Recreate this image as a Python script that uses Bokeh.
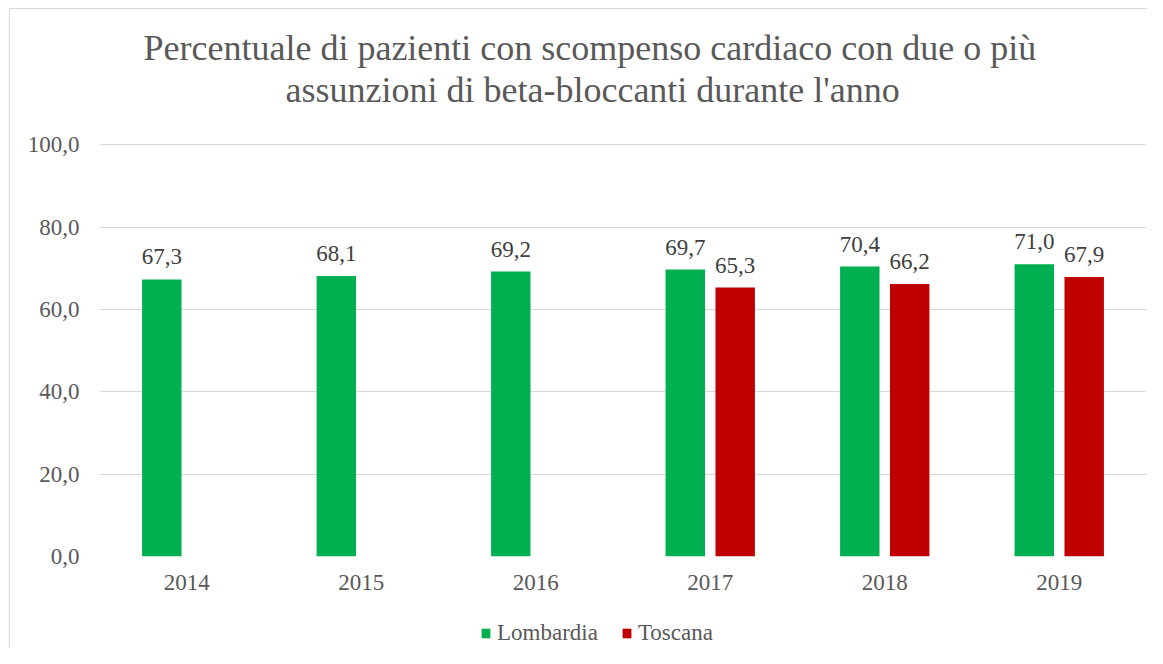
from bokeh.plotting import figure
from bokeh.layouts import column
from bokeh.models import ColumnDataSource, LabelSet, Title, FixedTicker, Legend, LegendItem
from bokeh.transform import dodge
from bokeh.core.properties import value
from bokeh.embed import file_html
from bokeh.resources import INLINE

# ---- data ----
years = ["2014", "2015", "2016", "2017", "2018", "2019"]
lombardia = [67.3, 68.1, 69.2, 69.7, 70.4, 71.0]
toscana = [None, None, None, 65.3, 66.2, 67.9]
series_names = ["Lombardia", "Toscana"]
y_ticks = [0, 20, 40, 60, 80, 100]
title_lines = ["Percentuale di pazienti con scompenso cardiaco con due o più",
               "assunzioni di beta-bloccanti durante l'anno"]

def fmt(v):
    return f"{v:.1f}".replace(".", ",")

lom_src = ColumnDataSource(dict(year=years, val=lombardia, lab=[fmt(v) for v in lombardia]))
tos_years = [y for y, v in zip(years, toscana) if v is not None]
tos_vals = [v for v in toscana if v is not None]
tos_src = ColumnDataSource(dict(year=tos_years, val=tos_vals, lab=[fmt(v) for v in tos_vals]))

FONT = "Liberation Serif"
GREEN = "#00B050"
RED = "#C00000"
GRAY = "#595959"
colors = [GREEN, RED]

W = 1147
p = figure(x_range=years, y_range=(0, 100.3), width=W, height=608,
           output_backend="svg", toolbar_location=None,
           min_border_left=99, min_border_right=1, min_border_top=143, min_border_bottom=52)
p.x_range.range_padding = 0
p.outline_line_color = None
p.background_fill_color = "white"
p.border_fill_alpha = 0

off = 0.143
bw = 0.226
p.vbar(x=dodge("year", -off, range=p.x_range), top="val", width=bw, source=lom_src,
       fill_color=colors[0], line_color=None)
p.vbar(x=dodge("year", off, range=p.x_range), top="val", width=bw, source=tos_src,
       fill_color=colors[1], line_color=None)

for src, o in ((lom_src, -off), (tos_src, off)):
    p.add_layout(LabelSet(x=dodge("year", o, range=p.x_range), y="val", text="lab", source=src,
                          text_align="center", text_baseline="alphabetic", y_offset=15,
                          text_font=value(FONT), text_font_size="23px", text_color="#404040"))

# axes
p.yaxis.ticker = FixedTicker(ticks=y_ticks)
p.yaxis.major_label_overrides = {t: fmt(t) for t in y_ticks}
for ax in (p.xaxis, p.yaxis):
    ax.axis_line_color = None
    ax.major_tick_line_color = None
    ax.minor_tick_line_color = None
    ax.major_tick_in = 0
    ax.major_tick_out = 0
    ax.major_label_text_font = FONT
    ax.major_label_text_font_size = "23px"
    ax.major_label_text_color = GRAY
p.yaxis.major_label_standoff = 20
p.xaxis.major_label_standoff = 18

p.xgrid.grid_line_color = None
p.ygrid.grid_line_color = "#d9d9d9"
p.ygrid.grid_line_width = 1

# spacer between plot area and title, then the two title lines (outward order)
p.add_layout(Title(text=" ", text_font_size="1px", standoff=31), "above")
for line, off_x in ((title_lines[1], 186), (title_lines[0], 44)):
    p.add_layout(Title(text=line, align="left", offset=off_x, standoff=0,
                       text_font=FONT, text_font_size="36px", text_font_style="normal",
                       text_color=GRAY), "above")

# legend strip below the chart (proxy renderers sit outside its visible y range)
lg = figure(width=W, height=40, output_backend="svg", toolbar_location=None,
            x_range=years, y_range=(500, 600), x_axis_type=None, y_axis_type=None,
            min_border=0, min_border_left=0, min_border_right=0,
            min_border_top=0, min_border_bottom=0)
lg.outline_line_color = None
lg.background_fill_alpha = 0
lg.border_fill_alpha = 0
lg.grid.visible = False
items = []
for name, c, src in zip(series_names, colors, (lom_src, tos_src)):
    r = lg.vbar(x="year", top="val", width=0.2, source=src, fill_color=c, line_color=None)
    items.append(LegendItem(label=name, renderers=[r]))
legend = Legend(items=items, orientation="horizontal", location=(381, 2))
legend.padding = 0
legend.margin = 0
legend.spacing = 23
legend.glyph_width = 11
legend.glyph_height = 12
legend.label_standoff = 6
legend.label_text_font = FONT
legend.label_text_font_size = "23px"
legend.label_text_color = GRAY
legend.border_line_color = None
legend.background_fill_alpha = 0
lg.add_layout(legend)

layout = column(p, lg, spacing=0)
layout.styles = {"background": "linear-gradient(#d9d9d9,#d9d9d9) 9px 8px / 1px 100% no-repeat, "
                               "linear-gradient(#d9d9d9,#d9d9d9) 9px 8px / 100% 1px no-repeat, white"}

open("out.html", "w").write(file_html(layout, INLINE))
